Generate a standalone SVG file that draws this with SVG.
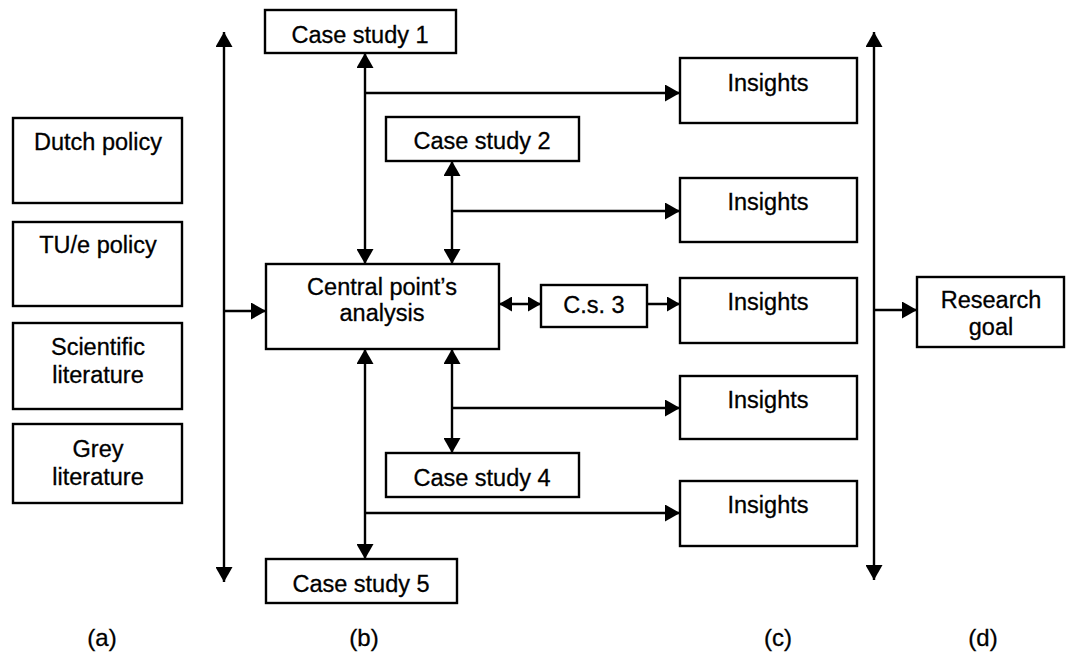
<svg xmlns="http://www.w3.org/2000/svg" width="1066" height="654" viewBox="0 0 1066 654">
<style>
.box{fill:#fff;stroke:#000;stroke-width:2.4}
.t{font-family:"Liberation Sans",Arial,sans-serif;font-size:23.5px;fill:#000;stroke:#000;stroke-width:0.3;text-anchor:middle}
.lab{font-family:"Liberation Sans",Arial,sans-serif;font-size:24px;fill:#000;stroke:#000;stroke-width:0.3;text-anchor:middle}
.c{fill:none;stroke:#000;stroke-width:2.4}
</style>
<defs>
<marker id="ah" markerUnits="userSpaceOnUse" markerWidth="16" markerHeight="17" refX="15" refY="8.5" orient="auto-start-reverse">
<path d="M0,0 L15,8.5 L0,17 z" fill="#000"/>
</marker>
<marker id="ahs" markerUnits="userSpaceOnUse" markerWidth="14" markerHeight="15" refX="13" refY="7.5" orient="auto-start-reverse">
<path d="M0,0 L13,7.5 L0,15 z" fill="#000"/>
</marker>
</defs>
<rect width="1066" height="654" fill="#fff"/>
<g id="connectors">
<line class="c" x1="224" y1="32" x2="224" y2="582" marker-start="url(#ah)" marker-end="url(#ah)"/>
<line class="c" x1="224" y1="311" x2="266" y2="311" marker-end="url(#ah)"/>
<line class="c" x1="365" y1="53" x2="365" y2="264" marker-start="url(#ah)" marker-end="url(#ah)"/>
<line class="c" x1="365" y1="93" x2="680" y2="93" marker-end="url(#ah)"/>
<line class="c" x1="452" y1="161" x2="452" y2="264" marker-start="url(#ah)" marker-end="url(#ah)"/>
<line class="c" x1="452" y1="211" x2="680" y2="211" marker-end="url(#ah)"/>
<line class="c" x1="499" y1="304" x2="541" y2="304" marker-start="url(#ahs)" marker-end="url(#ahs)"/>
<line class="c" x1="647" y1="304" x2="680" y2="304" marker-end="url(#ahs)"/>
<line class="c" x1="452" y1="349" x2="452" y2="453" marker-start="url(#ah)" marker-end="url(#ah)"/>
<line class="c" x1="452" y1="408" x2="680" y2="408" marker-end="url(#ah)"/>
<line class="c" x1="365" y1="349" x2="365" y2="559" marker-start="url(#ah)" marker-end="url(#ah)"/>
<line class="c" x1="365" y1="513" x2="680" y2="513" marker-end="url(#ah)"/>
<line class="c" x1="874" y1="32" x2="874" y2="580" marker-start="url(#ah)" marker-end="url(#ah)"/>
<line class="c" x1="874" y1="310" x2="917" y2="310" marker-end="url(#ah)"/>
</g>
<g id="dutch"><rect class="box" x="13" y="118" width="169" height="85"/><text class="t" x="98" y="150">Dutch policy</text></g>
<g id="tue"><rect class="box" x="13" y="222" width="169" height="84"/><text class="t" x="98" y="253">TU/e policy</text></g>
<g id="sci"><rect class="box" x="13" y="323" width="169" height="86"/><text class="t" x="98" y="355">Scientific</text><text class="t" x="98" y="383">literature</text></g>
<g id="grey"><rect class="box" x="13" y="424" width="169" height="79"/><text class="t" x="98" y="457">Grey</text><text class="t" x="98" y="485">literature</text></g>
<g id="cs1"><rect class="box" x="265" y="10" width="191" height="43"/><text class="t" x="360" y="43">Case study 1</text></g>
<g id="cs2"><rect class="box" x="386" y="117" width="193" height="44"/><text class="t" x="482" y="149">Case study 2</text></g>
<g id="central"><rect class="box" x="266" y="264" width="233" height="85"/><text class="t" x="382" y="295">Central point’s</text><text class="t" x="382" y="321">analysis</text></g>
<g id="cs3"><rect class="box" x="541" y="285" width="106" height="42"/><text class="t" x="594" y="313">C.s. 3</text></g>
<g id="cs4"><rect class="box" x="386" y="453" width="193" height="44"/><text class="t" x="482" y="486">Case study 4</text></g>
<g id="cs5"><rect class="box" x="266" y="559" width="191" height="44"/><text class="t" x="361" y="592">Case study 5</text></g>
<g id="ins1"><rect class="box" x="680" y="58" width="177" height="65"/><text class="t" x="768" y="91">Insights</text></g>
<g id="ins2"><rect class="box" x="680" y="178" width="177" height="64"/><text class="t" x="768" y="210">Insights</text></g>
<g id="ins3"><rect class="box" x="680" y="278" width="177" height="65"/><text class="t" x="768" y="310">Insights</text></g>
<g id="ins4"><rect class="box" x="680" y="376" width="177" height="63"/><text class="t" x="768" y="408">Insights</text></g>
<g id="ins5"><rect class="box" x="680" y="481" width="177" height="65"/><text class="t" x="768" y="513">Insights</text></g>
<g id="goal"><rect class="box" x="917" y="277" width="147" height="70"/><text class="t" x="991" y="308">Research</text><text class="t" x="991" y="335">goal</text></g>
<g id="labels">
<text class="lab" x="102" y="646">(a)</text>
<text class="lab" x="364" y="646">(b)</text>
<text class="lab" x="778" y="646">(c)</text>
<text class="lab" x="983" y="646">(d)</text>
</g>
</svg>
